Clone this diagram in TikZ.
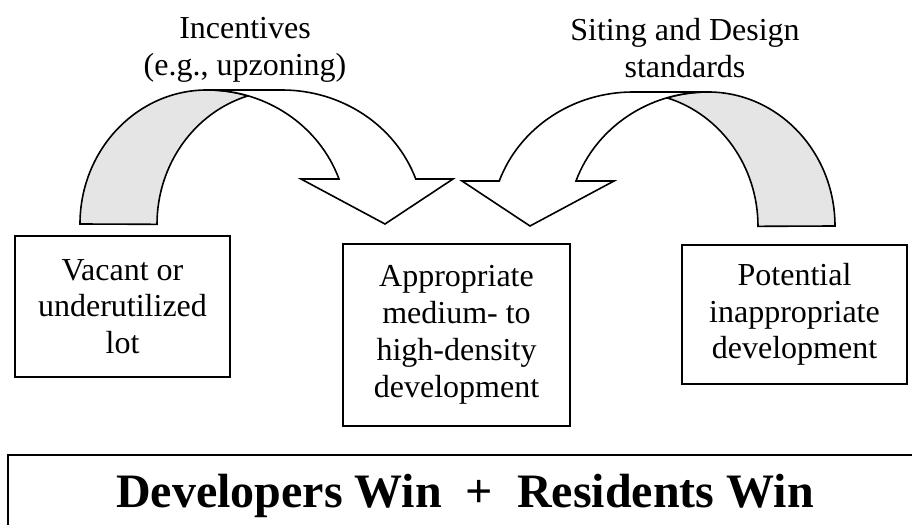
\documentclass[tikz,border=0pt]{standalone}
\usepackage{fontspec}
\setmainfont{Liberation Serif}
\usetikzlibrary{calc}
\newcommand{\bentarrow}{\filldraw[fill=gray!20, thick] (80,301) arc[start angle=180, end angle=90, x radius=63.5pt, y radius=67pt] arc[start angle=90, end angle=73, x radius=70pt, y radius=67pt] arc[start angle=106.5, end angle=180, x radius=63.5pt, y radius=67pt] -- cycle; \filldraw[fill=white, thick] (207,435) -- (282,435) arc[start angle=90, end angle=19.6, x radius=71pt, y radius=67pt] -- (453,346) -- (385,301) -- (301,346) -- (339,346) arc[start angle=19.6, end angle=90, x radius=70pt, y radius=67pt] -- cycle;}
\tikzset{lotbox/.style={draw, thick, align=center, inner sep=0pt}}

\begin{document}
\begin{tikzpicture}[x=0.5pt, y=0.5pt, font=\fontsize{16}{18.4}\selectfont]
        \useasboundingbox (0,0) rectangle (912,525);
        \clip (0,0) rectangle (912,525);
        % arrows
        \bentarrow
        \begin{scope}[shift={(915,-2)}, xscale=-1]
        \bentarrow
        \end{scope}
        % labels
        \node[align=center] (incentives) at (245,475) {Incentives\\(e.g., upzoning)};
        \node[align=center] (siting) at (685,477) {Siting and Design\\standards};
        % boxes
        \node[lotbox, minimum width=107.5pt, minimum height=70.5pt] (vacant) at (122.5,218.5) {Vacant or\\underutilized\\lot};
        \node[lotbox, minimum width=113.5pt, minimum height=91pt] (approp) at (456.5,190) {Appropriate\\medium- to\\high-density\\development};
        \node[lotbox, minimum width=112.5pt, minimum height=69.5pt] (inapprop) at (794.5,210.5) {Potential\\inappropriate\\development};
        % bottom line
        \draw[thick] (8,70) rectangle (940,-20);
        \node[anchor=base, font=\fontsize{24}{28}\selectfont\bfseries] (wins) at (465,17) {Developers Win~~+~~Residents Win};
    \end{tikzpicture}
\end{document}
